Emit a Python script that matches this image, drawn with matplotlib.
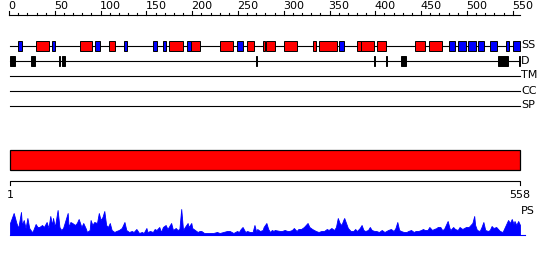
import matplotlib
matplotlib.use("Agg")
import matplotlib.pyplot as plt
from matplotlib.patches import Rectangle
import numpy as np

# sequence length
n_res = 558

# secondary structure: (start, end, type)  H = helix (red), E = strand (blue)
ss_segments = [
    (10, 14, "E"), (29, 44, "H"), (47, 50, "E"), (77, 91, "H"), (94, 99, "E"),
    (109, 116, "H"), (125, 129, "E"), (157, 162, "E"), (168, 171, "E"),
    (175, 190, "H"), (194, 199, "E"), (199, 208, "H"), (230, 245, "H"),
    (249, 256, "E"), (260, 268, "H"), (277, 280, "H"), (281, 290, "H"),
    (300, 314, "H"), (332, 335, "H"), (339, 358, "H"), (360, 366, "E"),
    (380, 384, "H"), (384, 398, "H"), (402, 412, "H"), (443, 454, "H"),
    (459, 473, "H"), (480, 487, "E"), (490, 499, "E"), (501, 510, "E"),
    (512, 519, "E"), (525, 533, "E"), (543, 546, "E"), (550, 558, "E"),
]

# disordered regions
disorder = [(1, 6), (24, 28), (54, 56), (58, 61), (270, 271), (398, 400),
            (412, 413), (428, 433), (534, 545), (557, 558)]

track_labels = ["SS", "D", "TM", "CC", "SP"]

# ruler ticks
minor_ticks = list(range(0, 551, 10))
major_ticks = list(range(0, 551, 50))

# PS profile (residue, score)
ps_res = [1, 5, 8, 10, 13, 14, 16, 18, 20, 22, 25, 26, 29, 31, 33, 36, 38, 41, 43, 45,
          47, 48, 50, 53, 55, 57, 59, 61, 64, 65, 67, 69, 72, 74, 76, 79, 81, 84, 85, 88,
          89, 91, 93, 96, 98, 100, 102, 104, 106, 108, 110, 112, 115, 117, 120, 123, 126,
          128, 131, 134, 136, 139, 142, 145, 147, 150, 151, 154, 157, 159, 161, 164, 166,
          168, 171, 173, 175, 177, 179, 182, 184, 186, 188, 190, 192, 195, 196, 199, 200,
          203, 206, 208, 210, 213, 216, 219, 223, 227, 230, 234, 238, 241, 245, 249, 251,
          253, 255, 258, 260, 263, 266, 268, 270, 271, 274, 277, 278, 281, 283, 285, 287,
          289,
          290, 296, 298, 301, 304, 306, 309, 311, 314, 316, 319, 322, 324, 326, 328, 331,
          333, 335, 338, 341, 344, 347, 349, 352, 355, 357, 359, 361, 363, 365, 366, 368,
          370, 373, 376, 378, 380, 383, 385, 387, 389, 392, 394, 396, 399, 401, 404, 407,
          410, 412, 414, 417, 420, 422, 424, 426, 428, 431, 434, 436, 439, 442, 444, 447,
          450, 452, 454, 457, 459, 462, 464, 467, 468, 471, 473, 475, 477, 479, 481, 482,
          485, 487, 490, 492, 495, 497, 499, 502, 504, 506, 508, 509, 511, 514, 516, 518,
          520, 523, 525, 527, 529, 532, 534, 536, 539, 541, 543, 545, 547, 549, 551, 552,
          554, 556, 558]
ps_val = [12, 22, 12, 7, 23, 10, 15, 7, 17, 7, 3, 4, 11, 8, 8, 10, 8, 13, 7, 19,
          10, 17, 8, 25, 8, 5, 7, 13, 22, 8, 13, 12, 10, 12, 16, 8, 12, 6, 3, 5,
          15, 10, 13, 12, 22, 15, 18, 24, 10, 8, 12, 5, 3, 4, 5, 7, 13,
          5, 3, 4, 3, 6, 2, 3, 2, 7, 3, 4, 3, 6, 5, 8, 3,
          8, 10, 6, 9, 12, 5, 7, 5, 6, 26, 5, 8, 12, 8, 12, 7,
          5, 3, 4, 4, 2, 2, 2, 2, 3, 2, 3, 4, 4, 2, 4, 3,
          6, 8, 3, 4, 3, 3, 10, 3, 6, 4, 5, 8, 12, 6, 3, 5,
          4,
          5, 4, 4, 5, 4, 4, 5, 7, 4, 6, 6, 8, 10, 12, 8, 6,
          5, 4, 3, 4, 4, 6, 5, 7, 5, 8, 17, 12, 10, 15, 17, 12,
          7, 4, 4, 6, 4, 7, 10, 5, 4, 5, 8, 5, 4, 4, 3, 5,
          3, 4, 5, 6, 4, 7, 13, 5, 4, 3, 3, 4, 5, 3, 4, 4,
          5, 6, 5, 5, 8, 5, 6, 7, 8, 8, 5, 6, 10, 14, 7, 5,
          8, 6, 5, 8, 6, 7, 8, 8, 10, 12, 19, 10, 5, 4, 8, 13,
          5, 4, 5, 9, 7, 8, 6, 4, 3, 7, 11, 15, 12, 16, 11, 14,
          10, 14, 10]

ss_colors = {"H": "#ff0000", "E": "#0000ff"}

# pixel-based vertical layout, residue-based horizontal axis
px_per_res = 510 / (n_res - 1)
x_left = 1 - 10 / px_per_res
x_right = 1 + 540 / px_per_res

fig = plt.figure(figsize=(5.5, 2.6), dpi=100)
ax = fig.add_axes([0, 0, 1, 1])
ax.set_xlim(x_left, x_right)
ax.set_ylim(260, 0)
ax.axis("off")

lw = 0.8
fs = 8
lab_x = n_res + 1.5

# ruler
ax.plot([0, n_res], [15, 15], color="black", lw=lw)
for t in minor_ticks:
    h = 4 if t in major_ticks else 2
    ax.plot([t, t], [15, 15 - h], color="black", lw=lw)
for t in major_ticks:
    ax.text(t - 1, 11, str(t), ha="left", va="bottom", fontsize=fs)

# tracks
track_y = [45.5, 60.5, 75.5, 90.5, 105.5]
for y, lab in zip(track_y, track_labels):
    ax.plot([1, n_res], [y, y], color="black", lw=lw, zorder=1)
    ax.text(lab_x, y, lab, ha="left", va="center", fontsize=fs)

for s, e, t in ss_segments:
    ax.add_patch(Rectangle((s, 40.5), e - s, 10, facecolor=ss_colors[t],
                           edgecolor="black", lw=0.7, zorder=2))

for s, e in disorder:
    ax.add_patch(Rectangle((s, 55.5), e - s, 10, facecolor="black",
                           edgecolor="black", lw=0.7, zorder=2))

# full length bar
ax.add_patch(Rectangle((1, 150), n_res - 1, 20, facecolor="#ff0000",
                       edgecolor="black", lw=0.9, zorder=2))

# bracket
ax.plot([1, 1, n_res, n_res], [185, 180.5, 180.5, 185], color="black", lw=lw)
ax.text(1, 195, "1", ha="center", va="center", fontsize=fs)
ax.text(n_res, 195, str(n_res), ha="center", va="center", fontsize=fs)

# PS profile
base = 235
ps_res = np.array(ps_res)
ps_val = np.array(ps_val)
ax.fill_between(ps_res, base, base - ps_val, color="#0000ff", lw=0.6,
                edgecolor="#0000ff")
ax.plot([1, n_res + 5], [base, base], color="#0000ff", lw=lw)
ax.text(lab_x, 211, "PS", ha="left", va="center", fontsize=fs)

fig.savefig("out.png", dpi=100)
